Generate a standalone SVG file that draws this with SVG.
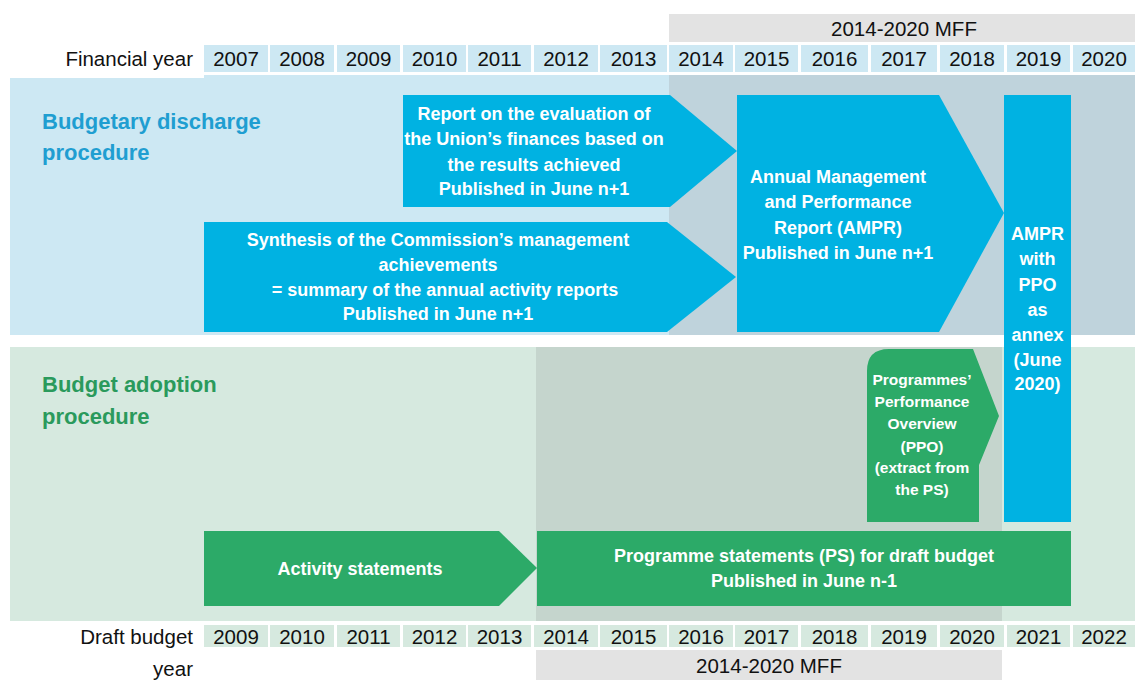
<svg xmlns="http://www.w3.org/2000/svg" width="1135" height="680" viewBox="0 0 1135 680">
<style>
text{font-family:"Liberation Sans",Arial,sans-serif}
.lbl{font-size:20.5px;fill:#111}
.yr{font-size:20.5px;fill:#111;text-anchor:middle}
.cb{fill:#cde8f3}
.cg{fill:#d6e9df}
.mff{fill:#e3e3e3}
.blue{fill:#00b2e2}
.green{fill:#2caa68}
.wt{font-weight:bold;fill:#fff;text-anchor:middle;font-size:18px}
.sm{font-size:15.5px}
.ttl{font-weight:bold;font-size:22px}
</style>
<rect width="1135" height="680" fill="#fff"/>
<g id="bands">
<rect x="10" y="78" width="1125" height="257" class="cb"/>
<rect x="204" y="75" width="931" height="5" class="cb"/>
<rect x="669" y="75" width="466" height="260" fill="#bfd3dc"/>
<rect x="10" y="347" width="1125" height="274" class="cg"/>
<rect x="536" y="347" width="466" height="274" fill="#c5d5cd"/>
</g>
<g id="mff-top">
<rect x="669" y="14" width="466" height="28" class="mff"/>
<text x="904" y="36" class="yr">2014-2020 MFF</text>
</g>
<g id="financial-years">
<text x="193" y="66" class="lbl" text-anchor="end">Financial year</text>
<rect x="204" y="45" width="64" height="27" class="cb"/><text x="236" y="66" class="yr">2007</text>
<rect x="270" y="45" width="64" height="27" class="cb"/><text x="302" y="66" class="yr">2008</text>
<rect x="337" y="45" width="63" height="27" class="cb"/><text x="368.5" y="66" class="yr">2009</text>
<rect x="403" y="45" width="63" height="27" class="cb"/><text x="434.5" y="66" class="yr">2010</text>
<rect x="468" y="45" width="63" height="27" class="cb"/><text x="499.5" y="66" class="yr">2011</text>
<rect x="534" y="45" width="64" height="27" class="cb"/><text x="566" y="66" class="yr">2012</text>
<rect x="600" y="45" width="67" height="27" class="cb"/><text x="633.5" y="66" class="yr">2013</text>
<rect x="669" y="45" width="64" height="27" class="cb"/><text x="701" y="66" class="yr">2014</text>
<rect x="735" y="45" width="63" height="27" class="cb"/><text x="766.5" y="66" class="yr">2015</text>
<rect x="801" y="45" width="67" height="27" class="cb"/><text x="834.5" y="66" class="yr">2016</text>
<rect x="871" y="45" width="66" height="27" class="cb"/><text x="904" y="66" class="yr">2017</text>
<rect x="940" y="45" width="64" height="27" class="cb"/><text x="972" y="66" class="yr">2018</text>
<rect x="1007" y="45" width="63" height="27" class="cb"/><text x="1038.5" y="66" class="yr">2019</text>
<rect x="1073" y="45" width="62" height="27" class="cb"/><text x="1104" y="66" class="yr">2020</text>
</g>
<g id="title-discharge">
<text x="42" y="129" class="ttl" fill="#1f9ed1">Budgetary discharge</text>
<text x="42" y="160" class="ttl" fill="#1f9ed1">procedure</text>
</g>
<g id="title-adoption">
<text x="42" y="392" class="ttl" fill="#2a9a5c">Budget adoption</text>
<text x="42" y="424" class="ttl" fill="#2a9a5c">procedure</text>
</g>
<g id="connectors"></g>
<g id="report">
<polygon points="403,95 670,95 737,151 670,207 403,207" class="blue"/>
<text x="534" y="120" class="wt">Report on the evaluation of</text>
<text x="534" y="145" class="wt">the Union’s finances based on</text>
<text x="534" y="171" class="wt">the results achieved</text>
<text x="534" y="195" class="wt">Published in June n+1</text>
</g>
<g id="synthesis">
<polygon points="204,222 667,222 736,277 667,332 204,332" class="blue"/>
<text x="438" y="246" class="wt">Synthesis of the Commission’s management</text>
<text x="438" y="271" class="wt">achievements</text>
<text x="445" y="296" class="wt">= summary of the annual activity reports</text>
<text x="438" y="320" class="wt">Published in June n+1</text>
</g>
<g id="ampr">
<polygon points="737,95 939,95 1004,213 939,332 737,332" class="blue"/>
<text x="838" y="183" class="wt">Annual Management</text>
<text x="838" y="208" class="wt">and Performance</text>
<text x="838" y="234" class="wt">Report (AMPR)</text>
<text x="838" y="259" class="wt">Published in June n+1</text>
</g>
<g id="ampr-ppo">
<rect x="1004" y="95" width="67" height="427" class="blue"/>
<text x="1037.5" y="240" class="wt">AMPR</text>
<text x="1037.5" y="265" class="wt">with</text>
<text x="1037.5" y="291" class="wt">PPO</text>
<text x="1037.5" y="316" class="wt">as</text>
<text x="1037.5" y="341" class="wt">annex</text>
<text x="1037.5" y="366" class="wt">(June</text>
<text x="1037.5" y="390" class="wt">2020)</text>
</g>
<g id="ppo">
<path d="M867,522 L867,371 Q867,349 889,349 L973,349 L999,416 L979,465 L979,522 Z" class="green"/>
<text x="922" y="385" class="wt sm">Programmes’</text>
<text x="922" y="407" class="wt sm">Performance</text>
<text x="922" y="429" class="wt sm">Overview</text>
<text x="922" y="452" class="wt sm">(PPO)</text>
<text x="922" y="473" class="wt sm">(extract from</text>
<text x="922" y="495" class="wt sm">the PS)</text>
</g>
<g id="activity">
<polygon points="204,531 499,531 537,568 499,606 204,606" class="green"/>
<text x="360" y="575" class="wt">Activity statements</text>
</g>
<g id="programme-statements">
<rect x="537" y="531" width="534" height="75" class="green"/>
<text x="804" y="562" class="wt">Programme statements (PS) for draft budget</text>
<text x="804" y="587" class="wt">Published in June n-1</text>
</g>
<g id="draft-years">
<text x="193" y="644" class="lbl" text-anchor="end">Draft budget</text>
<text x="193" y="676" class="lbl" text-anchor="end">year</text>
<rect x="204" y="625" width="64" height="22" class="cg"/><text x="236" y="644" class="yr">2009</text>
<rect x="270" y="625" width="64" height="22" class="cg"/><text x="302" y="644" class="yr">2010</text>
<rect x="337" y="625" width="63" height="22" class="cg"/><text x="368.5" y="644" class="yr">2011</text>
<rect x="403" y="625" width="63" height="22" class="cg"/><text x="434.5" y="644" class="yr">2012</text>
<rect x="468" y="625" width="63" height="22" class="cg"/><text x="499.5" y="644" class="yr">2013</text>
<rect x="534" y="625" width="64" height="22" class="cg"/><text x="566" y="644" class="yr">2014</text>
<rect x="600" y="625" width="67" height="22" class="cg"/><text x="633.5" y="644" class="yr">2015</text>
<rect x="669" y="625" width="64" height="22" class="cg"/><text x="701" y="644" class="yr">2016</text>
<rect x="735" y="625" width="63" height="22" class="cg"/><text x="766.5" y="644" class="yr">2017</text>
<rect x="801" y="625" width="67" height="22" class="cg"/><text x="834.5" y="644" class="yr">2018</text>
<rect x="871" y="625" width="66" height="22" class="cg"/><text x="904" y="644" class="yr">2019</text>
<rect x="940" y="625" width="64" height="22" class="cg"/><text x="972" y="644" class="yr">2020</text>
<rect x="1007" y="625" width="63" height="22" class="cg"/><text x="1038.5" y="644" class="yr">2021</text>
<rect x="1073" y="625" width="62" height="22" class="cg"/><text x="1104" y="644" class="yr">2022</text>
</g>
<g id="mff-bottom">
<rect x="536" y="650" width="466" height="30" class="mff"/>
<text x="769" y="673" class="yr">2014-2020 MFF</text>
</g>
</svg>
